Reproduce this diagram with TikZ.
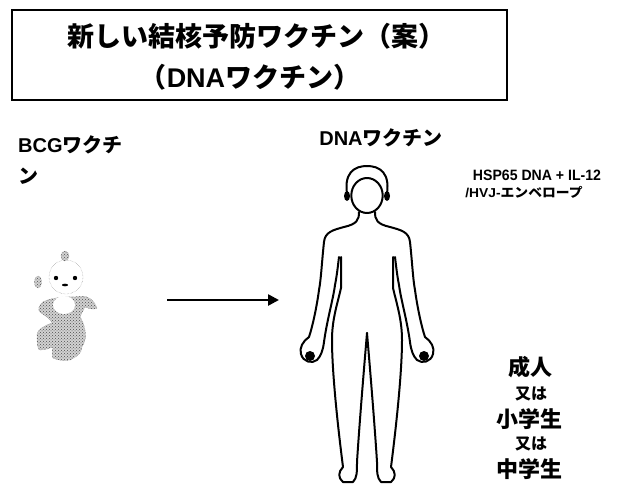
\documentclass[tikz,border=0pt]{standalone}
\usepackage{fontspec}
\setmainfont{Noto Sans CJK JP}
\newfontfamily\latin{Liberation Sans}
\usetikzlibrary{arrows.meta,patterns}

\tikzset{
  heading/.style={font=\fontsize{27}{27}\selectfont\bfseries, inner sep=0pt},
  caption/.style={font=\fontsize{20}{31}\selectfont\bfseries, inner sep=0pt},
  small/.style={font=\fontsize{15}{15}\selectfont\bfseries, inner sep=0pt},
  group/.style={font=\fontsize{22}{22}\selectfont\bfseries, inner sep=0pt},
  orword/.style={font=\fontsize{16}{16}\selectfont\bfseries, inner sep=0pt},
  outline/.style={line width=2pt, line join=round, line cap=round},
  fuzzy/.style={gray!70!black, densely dotted, thin, fill=gray!35,
    postaction={pattern=crosshatch dots, pattern color=gray!60!black}},
}

\begin{document}
\begin{tikzpicture}[x=1pt, y=-1pt]
  \useasboundingbox (0,0) rectangle (621,487);

  % Title box
  \draw[line width=2pt] (12,10) rectangle (507,100);
  \node[heading] (title1) at (256,36) {新しい結核予防ワクチン（案）};
  \node[heading] (title2) at (250,77) {（{\latin DNA}ワクチン）};

  % Labels
  \node[caption, anchor=north west, align=left] (bcg) at (18,135) {{\latin BCG}ワクチ\\ン};
  \node[caption] (dna) at (381,138) {{\latin DNA}ワクチン};
  \node[small] (vec1) at (537,175.5) {\scalebox{0.94}[1]{\latin HSP65 DNA + IL-12}};
  \node[small] (vec2) at (524,192.5) {\scalebox{0.92}[0.86]{{\latin /HVJ-}エンベロープ}};

  % Who gets it
  \node[group]  (adult)  at (530,367) {成人};
  \node[orword] (or1)    at (531,394) {又は};
  \node[group]  (elem)   at (529,419) {小学生};
  \node[orword] (or2)    at (531,444) {又は};
  \node[group]  (junior) at (529,469) {中学生};

  % Baby
  \draw[fuzzy] (43,302) .. controls (38,306) and (38,310) .. (40,312)
    .. controls (45,316) and (50,318) .. (52,323)
    .. controls (44,326) and (36,330) .. (37,337)
    .. controls (37,345) and (38,350) .. (40,350)
    .. controls (46,350) and (50,348) .. (53,347)
    .. controls (52,352) and (52,356) .. (53,358)
    .. controls (60,361) and (65,361) .. (70,360)
    .. controls (78,356) and (82,352) .. (82,347)
    .. controls (86,340) and (86,335) .. (85,330)
    .. controls (84,324) and (82,320) .. (80,317)
    .. controls (82,312) and (84,309) .. (85,307)
    .. controls (90,309) and (96,310) .. (97,308)
    .. controls (95,302) and (90,298) .. (87,297)
    .. controls (82,296) and (78,296) .. (75,297)
    .. controls (65,296) and (50,298) .. (43,302) -- cycle;
  \fill[white] (64,305) ellipse (11 and 9);
  \draw[gray, densely dotted, thin] (66,277) circle (17);
  \draw[fuzzy] (65,256) ellipse (4 and 5);
  \draw[fuzzy] (38,282) ellipse (3.5 and 6);
  \fill (56,278) circle (2.2);
  \fill (75,278) circle (2.2);
  \fill (65,285) ellipse (3 and 1.3);

  % Arrow
  \coordinate (from) at (167,300);
  \coordinate (to) at (279,300);
  \draw[line width=2.5pt, -{Triangle[length=11pt, width=11pt]}] (from) -- (to);

  % Person
  \begin{scope}[shift={(367,0)}]
    \draw[outline] (0,195.5) ellipse (15.7 and 17.5);
    \foreach \s in {1,-1} {
      % hair and ear
      \draw[outline, xscale=\s] (-19,199) .. controls (-25,172) and (-12,166) .. (0,166);
      \fill[xscale=\s] (-20,196) ellipse (3 and 5);
      % neck, arm, hand
      \draw[outline, xscale=\s] (-8,212) .. controls (-8,220) and (-10,224) .. (-23,227)
        .. controls (-34,230) and (-42,232) .. (-43,242)
        .. controls (-45,260) and (-46,280) .. (-48,290)
        .. controls (-50,305) and (-54,325) .. (-58,337)
        .. controls (-64,341) and (-68,348) .. (-66,354)
        .. controls (-64,362) and (-55,364) .. (-50,360)
        .. controls (-46,356) and (-44,350) .. (-43,342)
        .. controls (-40,320) and (-34,300) .. (-32,285)
        .. controls (-30,275) and (-29,265) .. (-28,257);
      \fill[xscale=\s] (-57,356) ellipse (5 and 5);
      % torso and leg
      \draw[outline, xscale=\s] (-26,257) -- (-26,288)
        .. controls (-30,305) and (-35,320) .. (-35,340)
        .. controls (-35,370) and (-30,420) .. (-24,467)
        .. controls (-29,472) and (-29,478) .. (-24,482)
        -- (-14,482)
        .. controls (-10,478) and (-10,472) .. (-10,462)
        .. controls (-8,430) and (-4,380) .. (0,333);
    }
  \end{scope}
\end{tikzpicture}
\end{document}
